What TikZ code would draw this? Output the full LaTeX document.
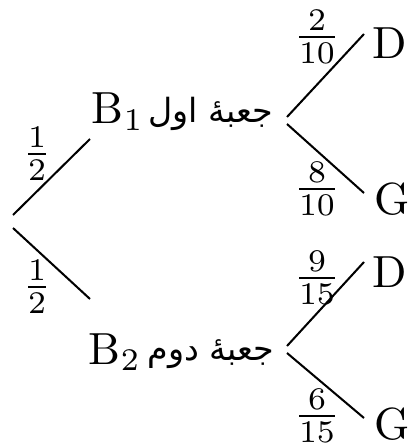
\documentclass[tikz,border=0pt]{standalone}
\usepackage{fontspec}
\TeXXeTstate=1
\newfontfamily\arabicfont[Script=Arabic,Scale=0.74]{DejaVu Sans}
\begin{document}
\begin{tikzpicture}[x=0.2222pt,y=-0.2222pt,
  edge/.style={line width=0.45pt},
  txt/.style={inner sep=0pt},
  prob/.style={inner sep=0pt}]
\useasboundingbox (0,0) rectangle (417,446);
% first level
\node[txt] (B1) at (118,112) {B$_1$};
\node[txt] (A1) at (211,114) {\arabicfont\beginR جعبهٔ اول\endR};
\node[txt] (B2) at (115,352) {B$_2$};
\node[txt] (A2) at (211,354) {\arabicfont\beginR جعبهٔ دوم\endR};
% leaves
\node[txt] (D1) at (390,43) {D};
\node[txt] (G1) at (392,199) {G};
\node[txt] (D2) at (390,272) {D};
\node[txt] (G2) at (392,424) {G};
% connector ends
\coordinate (r1) at (13,215);
\coordinate (r2) at (13,228);
\coordinate (b1) at (90,139);
\coordinate (b2) at (90,299);
\coordinate (f1u) at (287,117);
\coordinate (f1d) at (287,124);
\coordinate (f2u) at (287,346);
\coordinate (f2d) at (287,353);
\coordinate (d1) at (364,34);
\coordinate (g1) at (364,193);
\coordinate (d2) at (364,262);
\coordinate (g2) at (364,418);
\draw[edge] (r1) -- (b1);
\draw[edge] (r2) -- (b2);
\draw[edge] (f1u) -- (d1);
\draw[edge] (f1d) -- (g1);
\draw[edge] (f2u) -- (d2);
\draw[edge] (f2d) -- (g2);
% probabilities
\node[prob] (p1) at (37,154) {$\frac{1}{2}$};
\node[prob] (p2) at (37,287) {$\frac{1}{2}$};
\node[prob] (p3) at (317,37) {$\frac{2}{10}$};
\node[prob] (p4) at (317,189) {$\frac{8}{10}$};
\node[prob] (p5) at (317,278) {$\frac{9}{15}$};
\node[prob] (p6) at (317,416) {$\frac{6}{15}$};
\end{tikzpicture}
\end{document}
